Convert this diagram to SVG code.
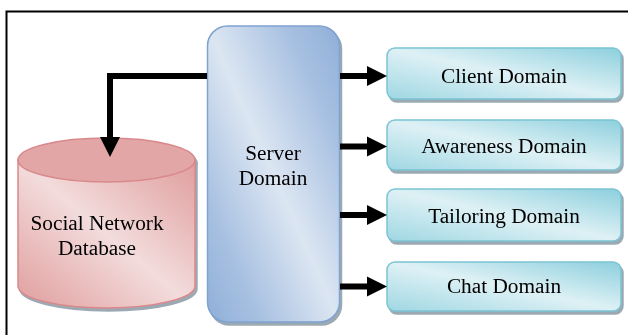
<svg xmlns="http://www.w3.org/2000/svg" width="628" height="335" viewBox="0 0 628 335">
<defs>
<linearGradient id="gSrv" x1="1" y1="0" x2="0" y2="1">
<stop offset="0" stop-color="#8fafd8"/>
<stop offset="0.2" stop-color="#a7c0e1"/>
<stop offset="0.5" stop-color="#dce6f2"/>
<stop offset="0.8" stop-color="#a7c0e1"/>
<stop offset="1" stop-color="#8fafd8"/>
</linearGradient>
<linearGradient id="gDom" x1="1" y1="0" x2="0" y2="1">
<stop offset="0" stop-color="#8ccfdd"/>
<stop offset="0.5" stop-color="#def1f5"/>
<stop offset="1" stop-color="#9fd7e3"/>
</linearGradient>
<linearGradient id="gCyl" x1="1" y1="0" x2="0" y2="1">
<stop offset="0" stop-color="#e09e9f"/>
<stop offset="0.2" stop-color="#e7b5b5"/>
<stop offset="0.5" stop-color="#f3dcdc"/>
<stop offset="0.8" stop-color="#e8b6b6"/>
<stop offset="1" stop-color="#e09e9f"/>
</linearGradient>
<filter id="sh" x="-10%" y="-10%" width="130%" height="130%">
<feOffset dx="1.5" dy="3" in="SourceAlpha" result="o"/>
<feFlood flood-color="#8a9aa6" flood-opacity="0.85"/>
<feComposite in2="o" operator="in" result="s"/>
<feMerge><feMergeNode in="s"/><feMergeNode in="SourceGraphic"/></feMerge>
</filter>
</defs>
<style>
.t{font-family:"Liberation Serif","Times New Roman",serif;font-size:21.3px;fill:#000;text-anchor:middle}
.dom{fill:url(#gDom);stroke:#7cc4d4;stroke-width:1.5}
.ln{stroke:#000;stroke-width:6;fill:none}
.ah{fill:#000}
</style>
<path d="M6.5,335 V11.5 H628" fill="none" stroke="#000" stroke-width="2"/>
<g id="database" filter="url(#sh)">
<path d="M18,160 V286 A88.5,22 0 0 0 195,286 V160 Z" fill="url(#gCyl)" stroke="#d9898b" stroke-width="1.5"/>
<ellipse cx="106.5" cy="160" rx="88.5" ry="22" fill="#e2a6a6" stroke="#d9898b" stroke-width="1.5"/>
<text class="t" x="97" y="230">Social Network</text>
<text class="t" x="97" y="255">Database</text>
</g>
<g id="server" filter="url(#sh)">
<rect x="207.5" y="26" width="132" height="296" rx="20" fill="url(#gSrv)" stroke="#7fa2d0" stroke-width="1.5"/>
<text class="t" x="273" y="160">Server</text>
<text class="t" x="273" y="185">Domain</text>
</g>
<g id="client" filter="url(#sh)">
<rect class="dom" x="387" y="48" width="234" height="51" rx="8"/>
<text class="t" x="504" y="83">Client Domain</text>
</g>
<g id="awareness" filter="url(#sh)">
<rect class="dom" x="387" y="120" width="234" height="50" rx="8"/>
<text class="t" x="504" y="153">Awareness Domain</text>
</g>
<g id="tailoring" filter="url(#sh)">
<rect class="dom" x="387" y="189" width="234" height="52" rx="8"/>
<text class="t" x="504" y="223">Tailoring Domain</text>
</g>
<g id="chat" filter="url(#sh)">
<rect class="dom" x="387" y="262" width="234" height="49" rx="8"/>
<text class="t" x="504" y="293">Chat Domain</text>
</g>
<g id="connectors">
<path class="ln" d="M207,76 H110 V140"/>
<polygon class="ah" points="100,137 120,137 110,157"/>
<path class="ln" d="M340,76 H368"/>
<polygon class="ah" points="367,66 387,76 367,86"/>
<path class="ln" d="M340,146.5 H368"/>
<polygon class="ah" points="367,136.5 387,146.5 367,156.5"/>
<path class="ln" d="M340,215 H368"/>
<polygon class="ah" points="367,205 387,215 367,225"/>
<path class="ln" d="M340,286.5 H368"/>
<polygon class="ah" points="367,276.5 387,286.5 367,296.5"/>
</g>
</svg>
